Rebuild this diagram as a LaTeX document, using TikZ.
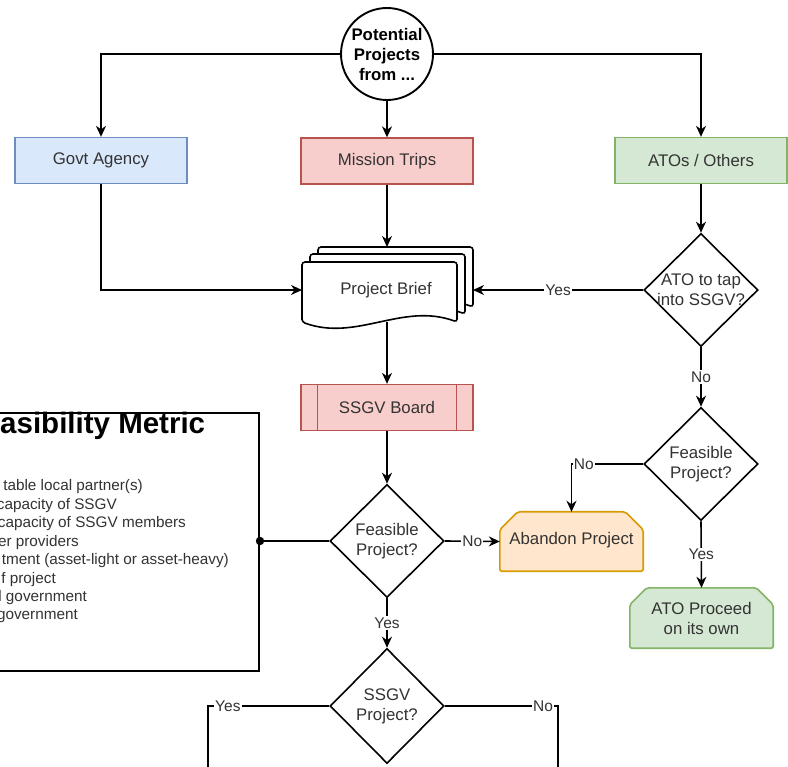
\documentclass[tikz,border=0pt]{standalone}
\usepackage{fontspec}
\setmainfont{Liberation Sans}
\usetikzlibrary{arrows.meta,shapes.geometric}
\definecolor{txt}{HTML}{333333}
\definecolor{blueF}{HTML}{DAE8FC}\definecolor{blueD}{HTML}{6C8EBF}
\definecolor{redF}{HTML}{F8CECC}\definecolor{redD}{HTML}{B85450}
\definecolor{greenF}{HTML}{D5E8D4}\definecolor{greenD}{HTML}{82B366}
\definecolor{orangeF}{HTML}{FFE6CC}\definecolor{orangeD}{HTML}{D79B00}
\begin{document}
\begin{tikzpicture}[x=1pt,y=-1pt,
  conn/.style={line width=1.6pt,draw=black},
  arr/.style={conn,-{Stealth[length=11pt,width=10pt,inset=3.5pt]}},
  btxt/.style={font=\fontsize{16.8}{20}\selectfont,text=txt,align=center,inner sep=0pt},
  sbox/.style={draw,line width=1.3pt,minimum width=172pt,minimum height=46pt,inner sep=0pt,btxt},
  dia/.style={diamond,draw=black,line width=1.6pt,fill=white,minimum width=114pt,minimum height=113pt,inner sep=0pt},
  elab/.style={font=\fontsize{15.5}{17}\selectfont,text=txt,fill=white,inner sep=1.2pt},
  listtxt/.style={font=\fontsize{15.3}{18}\selectfont,text=txt,anchor=base east,inner sep=0pt},
  doc/.style={draw=black,line width=1.6pt,fill=white,rounded corners=3pt},
  chamf/.style={line width=1.6pt,rounded corners=2pt},
]
\useasboundingbox (0,0) rectangle (788,767);
\fill[white] (0,0) rectangle (788,767);

% Feasibility metric panel
\node[draw=black,line width=1.6pt,minimum width=290pt,minimum height=258pt,anchor=north east,inner sep=0pt] (fm) at (260,412) {};
\node[font=\bfseries\fontsize{29.5}{34}\selectfont,anchor=base west,inner sep=0pt] (fmt) at (-34.4,434) {Feasibility Metric};
\node[listtxt] (f1) at (143,491) {table local partner(s)};
\node[listtxt] (f2) at (117,509) {capacity of SSGV};
\node[listtxt] (f3) at (186,527) {capacity of SSGV members};
\node[listtxt] (f4) at (79,546) {er providers};
\node[listtxt] (f5) at (229,564) {tment (asset-light or asset-heavy)};
\node[listtxt] (f6) at (56,583) {f project};
\node[listtxt] (f7) at (87,601) {l government};
\node[listtxt] (f8) at (78,619) {government};

% source circle
\node[circle,draw=black,line width=1.9pt,fill=white,minimum size=92pt,inner sep=0pt] (src) at (387,54) {};
\node[btxt,font=\bfseries\fontsize{16.8}{20}\selectfont,text=black] (srct) at (src) {Potential\\Projects\\from ...};

% top row
\node[sbox,fill=blueF,draw=blueD] (govt) at (101,160.5) {Govt Agency};
\node[sbox,fill=redF,draw=redD] (mission) at (387,161) {Mission Trips};
\node[sbox,fill=greenF,draw=greenD] (ato) at (701,160.5) {ATOs / Others};

% project brief (multi-document)
\node[minimum width=171pt,minimum height=75pt,inner sep=0pt] (pb) at (387.5,284.5) {};
\draw[doc] (318,307) -- (318,247) -- (473,247) -- (473,307) .. controls (418.75,287) and (372.25,327) .. (318,307) -- cycle;
\draw[doc] (310,314) -- (310,254) -- (465,254) -- (465,314) .. controls (410.75,294) and (364.25,334) .. (310,314) -- cycle;
\draw[doc] (302,322) -- (302,262) -- (457,262) -- (457,322) .. controls (402.75,302) and (356.25,342) .. (302,322) -- cycle;
\node[btxt] (pbt) at (386,290) {Project Brief};
\coordinate (pbL) at (302,290);
\coordinate (pbR) at (473,290);
\coordinate (pbT) at (387,247);
\coordinate (pbB) at (387,322);

% SSGV board (process)
\node[sbox,fill=redF,draw=redD] (board) at (387,407.5) {SSGV Board};
\draw[redD,line width=1.3pt] ([xshift=17pt]board.north west) -- ([xshift=17pt]board.south west);
\draw[redD,line width=1.3pt] ([xshift=-17pt]board.north east) -- ([xshift=-17pt]board.south east);

% decisions
\node[dia] (q1) at (701,290) {};
\node[btxt] (q1t) at (q1) {ATO to tap\\into SSGV?};
\node[dia] (q2) at (701,464) {};
\node[btxt] (q2t) at (q2) {Feasible\\Project?};
\node[dia] (q3) at (387,541) {};
\node[btxt] (q3t) at (q3) {Feasible\\Project?};
\node[dia,minimum height=115pt] (q4) at (387,706) {};
\node[btxt] (q4t) at (q4) {SSGV\\Project?};

% terminators (loop limit shapes)
\node[minimum width=143pt,minimum height=59pt,inner sep=0pt] (aband) at (571.5,541.5) {};
\draw[chamf,fill=orangeF,draw=orangeD] (aband.south west) -- ([yshift=-18pt]aband.north west) -- ([xshift=18pt]aband.north west) -- ([xshift=-18pt]aband.north east) -- ([yshift=-18pt]aband.north east) -- (aband.south east) -- cycle;
\node[btxt] (abandt) at ([yshift=1pt]aband.center) {Abandon Project};

\node[minimum width=143pt,minimum height=60pt,inner sep=0pt] (atop) at (701.5,618) {};
\draw[chamf,fill=greenF,draw=greenD] (atop.south west) -- ([yshift=-17pt]atop.north west) -- ([xshift=17pt]atop.north west) -- ([xshift=-17pt]atop.north east) -- ([yshift=-17pt]atop.north east) -- (atop.south east) -- cycle;
\node[btxt] (atopt) at (atop) {ATO Proceed\\on its own};

% connectors
\draw[arr] (src.west) -| (govt.north);
\draw[arr] (src.east) -| (ato.north);
\draw[arr] (src.south) -- (mission.north);
\draw[arr] (govt.south) |- (pbL);
\draw[arr] (mission.south) -- (pbT);
\draw[arr] (ato.south) -- (q1.north);
\draw[arr] (q1.west) -- node[elab]{Yes} (pbR);
\draw[arr] (q1.south) -- node[elab]{No} (q2.north);
\draw[arr] (pbB) -- (board.north);
\draw[arr] (board.south) -- (q3.north);
\draw[arr] (q3.east) -- node[elab]{No} (aband.west);
\draw[arr] (q3.south) -- node[elab]{Yes} (q4.north);
\coordinate (dot) at (260,541);
\draw[conn] (dot) -- (q3.west);
\fill[black] (dot) circle (4.2pt);
\draw[arr] (q2.west) -| node[elab,pos=0.414]{No} (aband.north);
\draw[arr] (q2.south) -- node[elab]{Yes} (atop.north);
\coordinate (yesEnd) at (208,800);
\coordinate (noEnd) at (558,800);
\draw[conn] (q4.west) -| node[elab,pos=0.418]{Yes} (yesEnd);
\draw[conn] (q4.east) -| node[elab,pos=0.434]{No} (noEnd);
\end{tikzpicture}
\end{document}
